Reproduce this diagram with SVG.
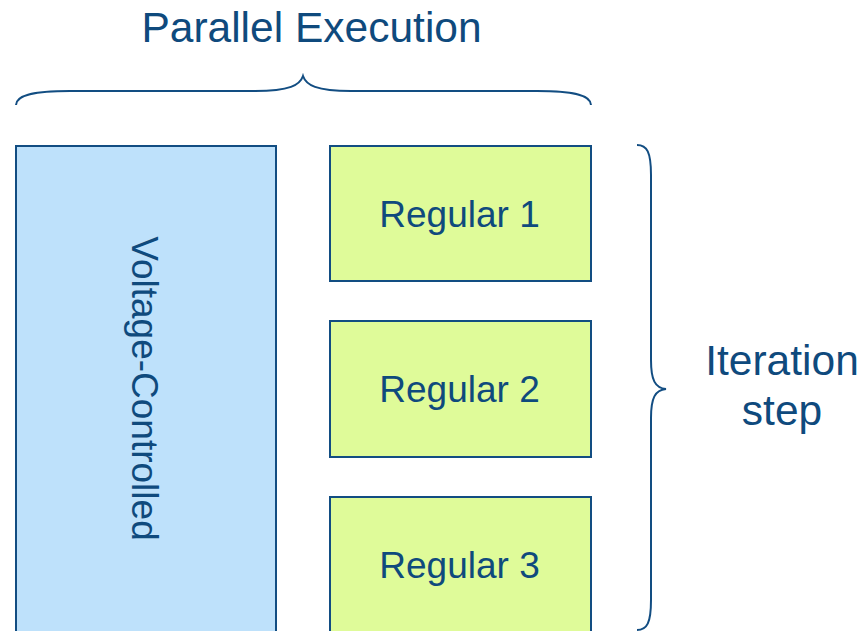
<svg xmlns="http://www.w3.org/2000/svg" width="861" height="631" viewBox="0 0 861 631">
<style>
  .t{font-family:"Liberation Sans",Arial,sans-serif;fill:#0f4a7d}
  .big{font-size:42.5px}
  .mid{font-size:37px}
  .box{stroke:#124d82;stroke-width:2}
  .blue{fill:#bee1fb}
  .green{fill:#dffb99}
  .brace{fill:none;stroke:#124d82;stroke-width:2}
</style>
<rect width="861" height="631" fill="#ffffff"/>
<text class="t big" x="311.5" y="42" text-anchor="middle">Parallel Execution</text>
<g id="connectors">
  <path class="brace" d="M16,105 C16,96 30,91 70,91 L255,91 C290,91 300,85 303,76 C306,85 316,91 351,91 L537,91 C577,91 591,96 591,105"/>
  <path class="brace" d="M637,145 C647,145 651,152 651,175 L651,360 C651,380 655,388 666,389 C655,390 651,398 651,418 L651,600 C651,623 647,630 637,630"/>
</g>
<g id="voltage">
  <rect class="box blue" x="16" y="146" width="260" height="500"/>
  <text class="t mid" transform="translate(132,388.5) rotate(90)" text-anchor="middle">Voltage-Controlled</text>
</g>
<g id="regular1">
  <rect class="box green" x="330" y="146" width="261" height="135"/>
  <text class="t mid" x="459.5" y="227" text-anchor="middle">Regular 1</text>
</g>
<g id="regular2">
  <rect class="box green" x="330" y="321" width="261" height="136"/>
  <text class="t mid" x="459.5" y="402" text-anchor="middle">Regular 2</text>
</g>
<g id="regular3">
  <rect class="box green" x="330" y="497" width="261" height="150"/>
  <text class="t mid" x="459.5" y="578" text-anchor="middle">Regular 3</text>
</g>
<g id="iteration">
  <text class="t big" x="782" y="375" text-anchor="middle">Iteration</text>
  <text class="t big" x="782" y="425" text-anchor="middle">step</text>
</g>
</svg>
